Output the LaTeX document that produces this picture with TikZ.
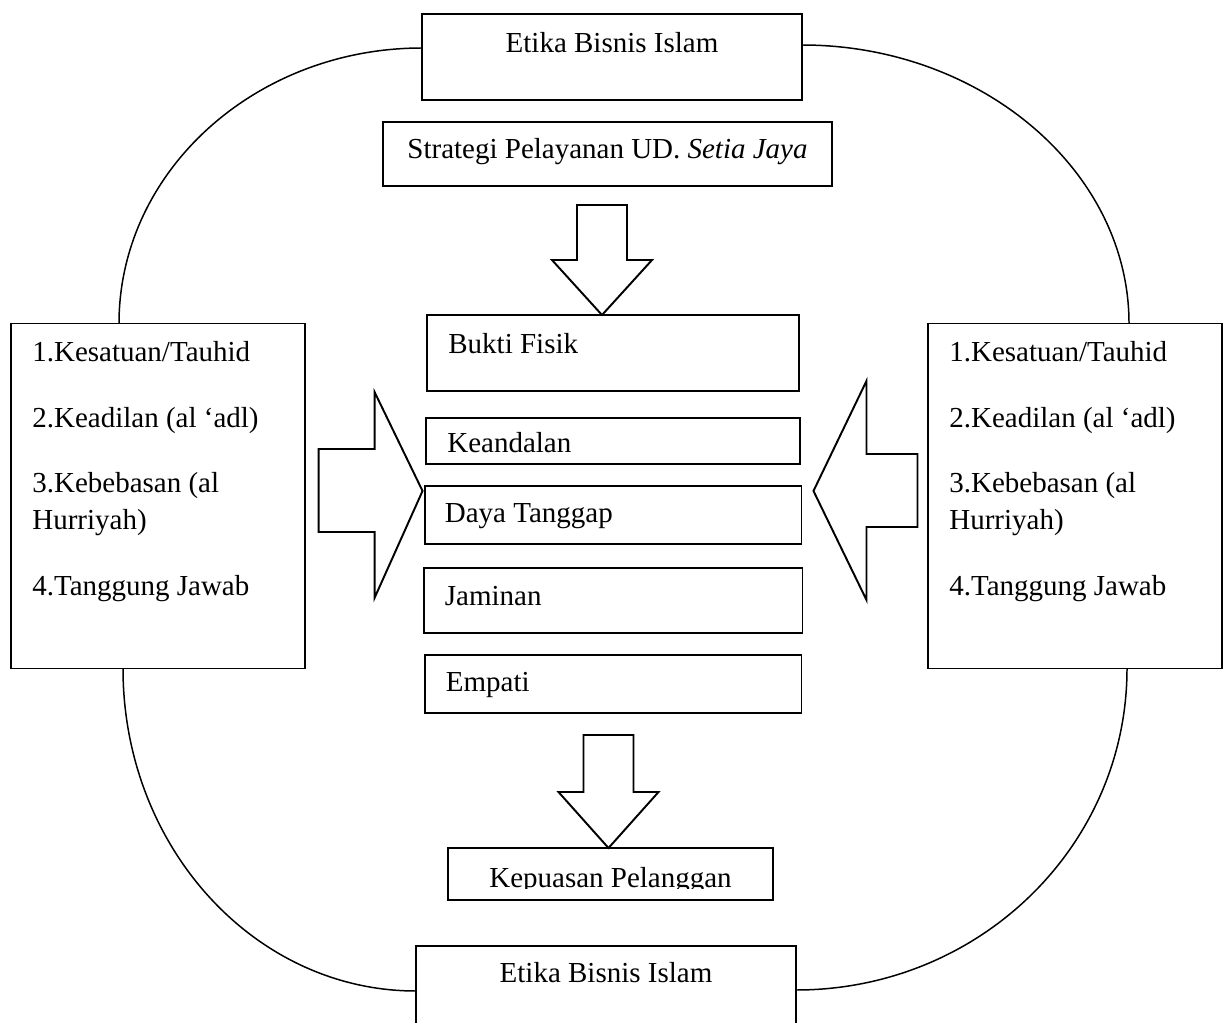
\documentclass[tikz,border=0pt]{standalone}
\usepackage{fontspec}
\setmainfont{Liberation Serif}
\usetikzlibrary{positioning,calc}

\begin{document}
\begin{tikzpicture}[x=0.02cm, y=-0.02cm,
        kotak/.style={draw, rectangle, line width=1.1pt, inner sep=0pt, outer sep=0pt},
        teks/.style={inner sep=0pt, font=\fontsize{16.5}{21}\selectfont},
        blok/.style={draw, fill=white, line width=1.1pt, line join=miter},
        lengkung/.style={line width=0.85pt}
    ]
        \useasboundingbox (0,0) rectangle (1223,1023);

        % etika bisnis islam, atas dan bawah
        \node [kotak, minimum width=7.6cm, minimum height=1.72cm] (etop) at (612,57) {};
        \node [kotak, minimum width=7.6cm, minimum height=1.72cm] (ebot) at (606,989) {};
        \node [teks, anchor=base] (etop-t) at ([shift={(0,38)}]etop.north) {Etika Bisnis Islam};
        \node [teks, anchor=base] (ebot-t) at ([shift={(0,36)}]ebot.north) {Etika Bisnis Islam};

        % kolom tengah
        \node [kotak, minimum width=8.98cm, minimum height=1.28cm, below=0.44cm of etop, xshift=-0.09cm] (strat) {};
        \node [kotak, minimum width=7.44cm, minimum height=1.52cm] (bukti) at (613,353) {};
        \node [kotak, minimum width=7.48cm, minimum height=0.92cm, below=0.54cm of bukti] (kean) {};
        \node [kotak, minimum width=7.54cm, minimum height=1.16cm, below=0.44cm of kean] (daya) {};
        \node [kotak, minimum width=7.58cm, minimum height=1.3cm, below=0.48cm of daya] (jamin) {};
        \node [kotak, minimum width=7.54cm, minimum height=1.16cm, below=0.44cm of jamin] (empati) {};
        \node [kotak, minimum width=6.5cm, minimum height=1.04cm] (kepuasan) at (610.5,874) {};

        \node [teks, anchor=base] (strat-t) at ([shift={(0,37)}]strat.north) {Strategi Pelayanan UD. \textit{Setia Jaya}};
        \node [teks, anchor=base west] (bukti-t) at ([shift={(21,38)}]bukti.north west) {Bukti Fisik};
        \node [teks, anchor=base west] (kean-t) at ([shift={(21,35)}]kean.north west) {Keandalan};
        \node [teks, anchor=base west] (daya-t) at ([shift={(20,37)}]daya.north west) {Daya Tanggap};
        \node [teks, anchor=base west] (jamin-t) at ([shift={(21,38)}]jamin.north west) {Jaminan};
        \node [teks, anchor=base west] (empati-t) at ([shift={(21,37)}]empati.north west) {Empati};
        \begin{scope}
            \clip (kepuasan.north west) rectangle ([shift={(0,40)}]kepuasan.north east);
            \node [teks, anchor=base] (kepuasan-t) at ([shift={(0,39)}]kepuasan.north) {Kepuasan Pelanggan};
        \end{scope}

        % prinsip etika, kiri dan kanan
        \foreach \nama/\px in {kiri/158, kanan/1075} {
            \node [kotak, minimum width=5.88cm, minimum height=6.9cm] (\nama) at (\px,496) {};
            \node [teks, anchor=base west] (\nama-1) at ([shift={(21,38)}]\nama.north west) {1.Kesatuan/Tauhid};
            \node [teks, anchor=base west] (\nama-2) at ([shift={(21,104)}]\nama.north west) {2.Keadilan (al ‘adl)};
            \node [teks, anchor=base west] (\nama-3) at ([shift={(21,169)}]\nama.north west) {3.Kebebasan (al};
            \node [teks, anchor=base west] (\nama-3b) at ([shift={(21,206)}]\nama.north west) {Hurriyah)};
            \node [teks, anchor=base west] (\nama-4) at ([shift={(21,272)}]\nama.north west) {4.Tanggung Jawab};
        }

        % panah blok
        \draw [blok] ([shift={(-11,0)}]bukti.north) -- ++(-50,-55) -- ++(25,0) -- ++(0,-55)
            -- ++(50,0) -- ++(0,55) -- ++(25,0) -- cycle;
        \draw [blok] ([shift={(-2,0)}]kepuasan.north) -- ++(-50,-56) -- ++(25,0) -- ++(0,-57)
            -- ++(50,0) -- ++(0,57) -- ++(25,0) -- cycle;
        \draw [blok] ([shift={(-2,-24)}]daya.west) -- ++(-48,-99) -- ++(0,57) -- ++(-56,0)
            -- ++(0,83) -- ++(56,0) -- ++(0,66) -- cycle;
        \draw [blok] ([shift={(12,-24)}]daya.east) -- ++(53,-110) -- ++(0,73) -- ++(51,0)
            -- ++(0,73) -- ++(-51,0) -- ++(0,73) -- cycle;

        % lengkungan
        \draw [lengkung] ([shift={(-39,0)}]kiri.north) .. controls +(0,-152) and +(-167,0) .. ([shift={(0,-9)}]etop.west);
        \draw [lengkung] ([shift={(0,-12)}]etop.east) .. controls +(179,0) and +(0,-153) .. ([shift={(54,0)}]kanan.north);
        \draw [lengkung] ([shift={(-35,0)}]kiri.south) .. controls +(0,178) and +(-162,0) .. ([shift={(0,2)}]ebot.west);
        \draw [lengkung] ([shift={(52,0)}]kanan.south) .. controls +(0,178) and +(183,0) .. ([shift={(0,1)}]ebot.east);
    \end{tikzpicture}
\end{document}
